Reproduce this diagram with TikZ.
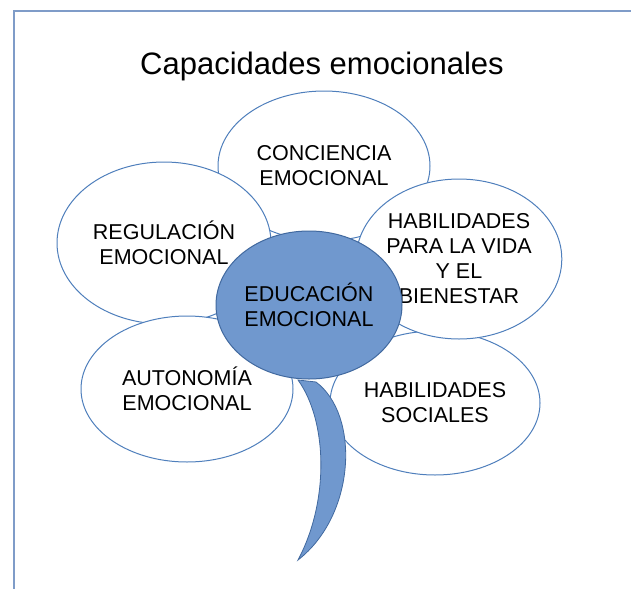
\documentclass[tikz,border=0pt]{standalone}
\usepackage{fontspec}
\setmainfont{Liberation Sans}
\usepackage{tikz}
\usetikzlibrary{shapes.geometric}
\definecolor{frame_blue}{HTML}{7F9CC8}
\definecolor{petal_blue}{HTML}{4F7FBC}
\definecolor{center_blue}{HTML}{7098CE}
\definecolor{center_line}{HTML}{41699F}

\tikzset{
    petal/.style={ellipse, draw=petal_blue, fill=white, line width=1pt, inner sep=0pt,
        align=center, font=\fontsize{21.5}{25}\selectfont},
}

\begin{document}
\begin{tikzpicture}[x=1pt, y=-1pt]
                \useasboundingbox (0,0) rectangle (631,589);
                \draw[frame_blue, line width=1.2pt] (631,11) -- (14,11) -- (14,589);
                \node (title) at (322,66) {\fontsize{31}{36}\selectfont Capacidades emocionales};

                % petals, back to front
                \node[petal, minimum width=212pt, minimum height=150pt] (conciencia) at (324,166) {CONCIENCIA\\EMOCIONAL};
                \node[petal, minimum width=210pt, minimum height=144pt] (sociales) at (435,403) {HABILIDADES\\SOCIALES};
                \node[petal, minimum width=214pt, minimum height=162pt] (regulacion) at (164,243) {REGULACIÓN\\EMOCIONAL};
                \node[petal, minimum width=196pt, minimum height=160pt] (vida) at (459,259) {HABILIDADES\\PARA LA VIDA\\Y EL\\BIENESTAR};
                \node[petal, minimum width=212pt, minimum height=146pt] (autonomia) at (187,389) {AUTONOMÍA\\EMOCIONAL};

                % stem
                \filldraw[fill=center_blue, draw=center_line, line width=0.8pt]
                    (298,380) .. controls (327,420) and (330,500) .. (298,560)
                    .. controls (356,515) and (360,415) .. (316,382) -- cycle;

                \node[petal, fill=center_blue, draw=center_line, minimum width=186pt, minimum height=148pt] (educacion) at (309,305) {EDUCACIÓN\\EMOCIONAL};

            \end{tikzpicture}
\end{document}
